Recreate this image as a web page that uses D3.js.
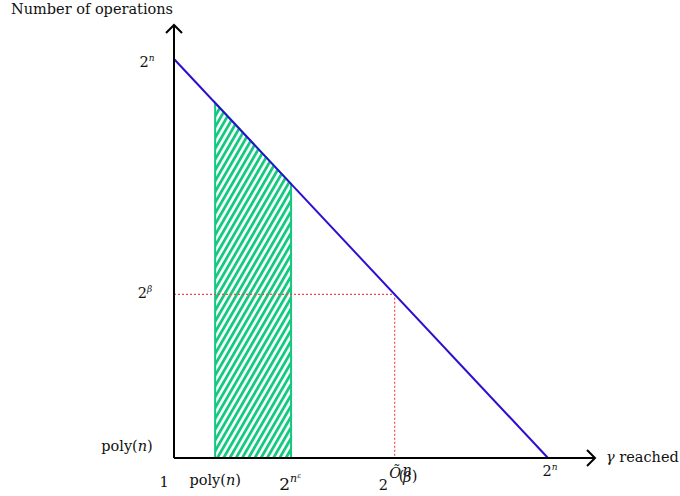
<!DOCTYPE html>
<html>
<head>
<meta charset="utf-8">
<script src="https://cdn.jsdelivr.net/npm/d3@7"></script>
<style>
  body { margin: 0; background: #fff; }
  text { font-family: 'DejaVu Serif', serif; font-size: 14.5px; fill: #111; }
</style>
</head>
<body>
<div id="chart-area"></div>
<script>
// abstract log-scale units, 0..100 on both axes
var lineX = [0, 100]
var lineY = [100, 0]
var shadeX = [11, 31.3]        // poly(n) .. 2^{n^eps}
var markX = 59                 // 2^{O~(n/beta)}
var markY = 41                 // 2^beta
var xTickVals = [11, 31.3, 59, 100]
var yTickVals = [100, 41, 0]

var width = 680, height = 496
var x = d3.scaleLinear().domain([0, 100]).range([174, 548])
var y = d3.scaleLinear().domain([0, 100]).range([458, 59])
var lineAt = v => 100 - v
var green = '#12c97f'

var svg = d3.select('#chart-area')
  .append('svg')
    .attr('width', width)
    .attr('height', height)

svg.append('defs').append('pattern')
    .attr('id', 'hatch')
    .attr('patternUnits', 'userSpaceOnUse')
    .attr('width', 5.4)
    .attr('height', 10)
    .attr('patternTransform', 'rotate(30)')
  .append('rect')
    .attr('width', 2.8)
    .attr('height', 10)
    .attr('fill', green)

// shaded area under the line
var area = [
  [shadeX[0], 0], [shadeX[0], lineAt(shadeX[0])],
  [shadeX[1], lineAt(shadeX[1])], [shadeX[1], 0]
]
svg.append('path')
  .attr('d', d3.line().x(d => x(d[0])).y(d => y(d[1]))(area) + 'Z')
  .attr('fill', 'url(#hatch)')
  .attr('stroke', green)
  .attr('stroke-width', 2)

// red dotted guides
svg.append('path')
  .attr('d', d3.line()([[x(0), y(markY)], [x(markX), y(markY)], [x(markX), y(0)]]))
  .attr('fill', 'none')
  .attr('stroke', '#f24a4a')
  .attr('stroke-width', 1.2)
  .attr('stroke-dasharray', '2,2')

// main line
svg.append('line')
  .attr('x1', x(lineX[0])).attr('y1', y(lineY[0]))
  .attr('x2', x(lineX[1])).attr('y2', y(lineY[1]))
  .attr('stroke', '#2a0fd0')
  .attr('stroke-width', 2)

// axes with open arrow heads
var ax = svg.append('g').attr('stroke', '#000').attr('stroke-width', 2).attr('fill', 'none')
ax.append('line').attr('x1', x(0)).attr('y1', y(0)).attr('x2', 594).attr('y2', y(0))
ax.append('line').attr('x1', x(0)).attr('y1', y(0)).attr('x2', x(0)).attr('y2', 26)
ax.append('path').attr('d', 'M587,' + (y(0) - 8) + ' L595,' + y(0) + ' L587,' + (y(0) + 8))
ax.append('path').attr('d', 'M' + (x(0) - 8) + ',33 L' + x(0) + ',25 L' + (x(0) + 8) + ',33')

function polyN(t) {
  t.append('tspan').text('poly(')
  t.append('tspan').attr('font-style', 'italic').text('n')
  t.append('tspan').text(')')
}

// y labels
svg.append('text').attr('x', 147).attr('y', 67).attr('text-anchor', 'middle').attr('font-size', 12.5)
  .call(t => {
    t.append('tspan').text('2')
    t.append('tspan').attr('font-style', 'italic').attr('font-size', 9).attr('dy', -6).text('n')
  })
svg.append('text').attr('x', 145).attr('y', y(markY) + 4).attr('text-anchor', 'middle').attr('font-size', 12.5)
  .call(t => {
    t.append('tspan').text('2')
    t.append('tspan').attr('font-style', 'italic').attr('font-size', 9).attr('dy', -6).text('β')
  })
svg.append('text').attr('x', 127).attr('y', 451).attr('text-anchor', 'middle').call(polyN)
svg.append('text').attr('x', 164).attr('y', 487).attr('font-size', 17).attr('text-anchor', 'middle').text('1')

// x labels
svg.append('text').attr('x', x(xTickVals[0])).attr('y', 485).attr('text-anchor', 'middle').call(polyN)
svg.append('text').attr('x', x(xTickVals[1]) - 1).attr('y', 490).attr('text-anchor', 'middle')
  .call(t => {
    t.append('tspan').attr('font-size', 17).text('2')
    t.append('tspan').attr('font-style', 'italic').attr('font-size', 11).attr('dy', -8).text('n')
    t.append('tspan').attr('font-style', 'italic').attr('font-size', 7).attr('dy', -4).text('ε')
  })
// 2^{Õ(n/β)} built from pieces so the fraction can stack
var og = svg.append('g').attr('transform', 'translate(' + (x(xTickVals[2]) - 16) + ',490)')
og.append('text').attr('font-size', 17).text('2')
og.append('text').attr('x', 10.5).attr('y', -12).attr('font-size', 10).attr('font-style', 'italic').text('Õ')
og.append('text').attr('x', 20).attr('y', -9.5).attr('font-size', 11).text('(')
og.append('text').attr('x', 28.5).attr('y', -15.5).attr('font-size', 6).attr('font-style', 'italic').attr('text-anchor', 'middle').text('n')
og.append('line').attr('x1', 25.5).attr('x2', 31.5).attr('y1', -14).attr('y2', -14).attr('stroke', '#111').attr('stroke-width', 0.8)
og.append('text').attr('x', 28.5).attr('y', -8).attr('font-size', 6).attr('font-style', 'italic').attr('text-anchor', 'middle').text('β')
og.append('text').attr('x', 33).attr('y', -9.5).attr('font-size', 11).text(')')
svg.append('text').attr('x', x(xTickVals[3]) + 2).attr('y', 476).attr('text-anchor', 'middle').attr('font-size', 12.5)
  .call(t => {
    t.append('tspan').text('2')
    t.append('tspan').attr('font-style', 'italic').attr('font-size', 9).attr('dy', -6).text('n')
  })

// axis titles
svg.append('text').attr('x', 606).attr('y', 462)
  .call(t => {
    t.append('tspan').attr('font-style', 'italic').text('γ')
    t.append('tspan').text(' reached')
  })
svg.append('text').attr('x', 11).attr('y', 14).text('Number of operations')
</script>
</body>
</html>
